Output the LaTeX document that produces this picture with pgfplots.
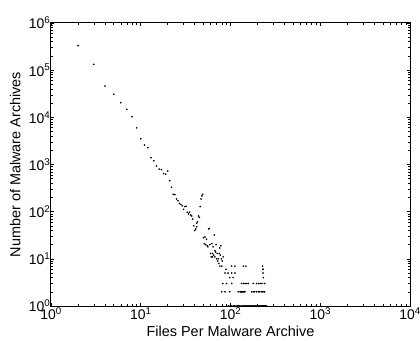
\documentclass[border=0pt]{standalone}
\usepackage{fontspec}
\setmainfont{Liberation Sans}
\usepackage{pgfplots}
\pgfplotsset{compat=1.18}
\begin{document}
\begin{tikzpicture}
\begin{axis}[
  scale only axis,
  width=359bp, height=283bp,
  xmode=log, ymode=log,
  xmin=1, xmax=10000, ymin=1, ymax=1000000,
  xtick={1,10,100,1000,10000},
  xticklabels={10\textsuperscript{0},10\textsuperscript{1},10\textsuperscript{2},10\textsuperscript{3},10\textsuperscript{4}},
  ytick={1,10,100,1000,10000,100000,1000000},
  yticklabels={10\textsuperscript{0},10\textsuperscript{1},10\textsuperscript{2},10\textsuperscript{3},10\textsuperscript{4},10\textsuperscript{5},10\textsuperscript{6}},
  tick align=inside,
  major tick length=3.5bp, minor tick length=2bp,
  axis line style={line width=1bp},
  every tick/.style={black, line width=0.6bp},
  ticklabel style={font=\fontsize{14}{14}\selectfont},
  xticklabel style={inner sep=0.5bp, yshift=-1bp},
  yticklabel style={inner sep=0.5bp},
  label style={font=\fontsize{14.5}{14.5}\selectfont},
  xlabel={Files Per Malware Archive},
  ylabel={Number of Malware Archives},
  xlabel style={at={(axis description cs:0.5,-0.108)}, anchor=base},
  ylabel style={at={(axis description cs:-0.085,0.5)}, anchor=base},
  clip=false,
]
\addplot[only marks, mark=*, mark size=0.6bp, black] table {
x y
2 330000
3 133000
4 46000
5 31000
6 20400
7 14800
8 10300
9 6000
10 3500
11 2600
12 2270
13 1390
14 1200
15 930
16 800
17 780
18 640
19 620
20 728
21 453
22 329
23 234
24 229
25 185
26 170
27 150
28 143
29 134
30 112
31 128
32 130
33 97
34 89
35 97
36 85
37 81
38 70
39 50
40 40
41 43
42 48
42 57
43 61
44 81
45 76
46 128
47 186
48 215
49 233
50 28
51 21
52 29
53 20
54 26
55 19
56 18
57 43
58 44
59 20
62 21
64 18
66 32
69 20
78 19
76 17
67 15
63 13
65 12
71 13
75 13
61 11
70 10
77 12
72 9
74 8
60 13
68 14
63 11
67 11
73 10
83 11
79 10
81 9
76 7
80 7
103 7
112 7
139 7
148 7
228 7
89 6
229 6
231 6
87 5
94 5
103 5
112 5
230 5
98 4
107 4
232 4
82 3
90 3
103 3
133 3
140 3
145 3
152 3
158 3
179 3
195 3
205 3
215 3
225 3
240 3
80 2
87 2
98 2
122 2
128 2
130 2
133 2
136 2
139 2
142 2
145 2
172 2
179 2
186 2
195 2
204 2
212 2
220 2
228 2
236 2
240 2
95 1
99 1
103 1
107 1
111 1
115 1
119 1
123 1
127 1
131 1
135 1
139 1
143 1
147 1
151 1
155 1
159 1
163 1
167 1
171 1
175 1
179 1
183 1
187 1
191 1
195 1
199 1
203 1
207 1
211 1
215 1
219 1
223 1
227 1
231 1
235 1
239 1
243 1
247 1
251 1
};
\end{axis}
\pgfresetboundingbox
\path[use as bounding box] (-51bp,-35bp) rectangle (369bp,306bp);
\end{tikzpicture}
\end{document}
